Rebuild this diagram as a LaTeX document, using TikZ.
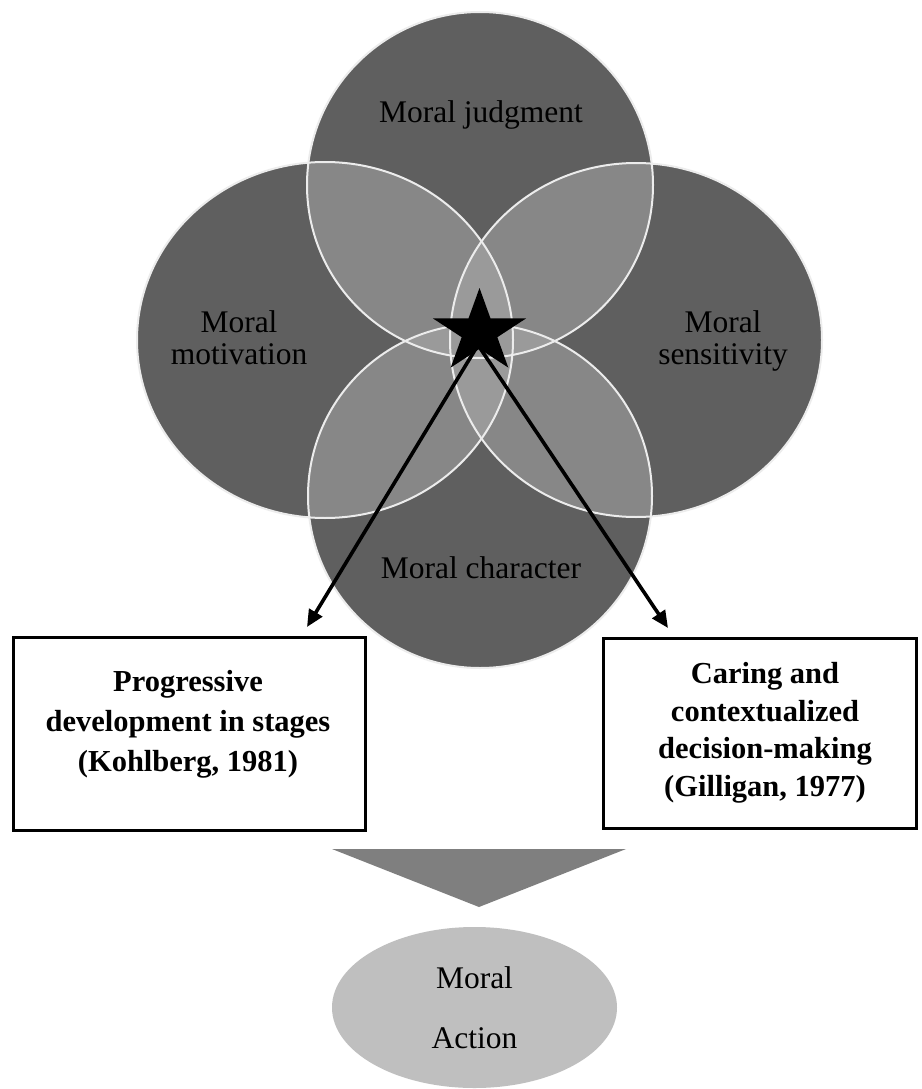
\documentclass[tikz,border=0pt]{standalone}
\usepackage{fontspec}
\setmainfont{Liberation Serif}
\usetikzlibrary{arrows.meta,shapes.geometric}
\definecolor{vdark}{HTML}{5F5F5F}
\definecolor{vmid}{HTML}{878787}
\definecolor{vlight}{HTML}{9A9A9A}
\definecolor{vline}{HTML}{ECECEC}
\definecolor{vtri}{HTML}{7F7F7F}
\definecolor{vell}{HTML}{BFBFBF}
\begin{document}
\begin{tikzpicture}[x=1pt,y=-1pt,
  lbl/.style={font=\fontsize{31.5}{32}\selectfont, align=center, inner sep=0pt, text=black},
  boxtxt/.style={font=\fontsize{30.5}{40}\selectfont\bfseries, align=center, inner sep=0pt, text=black},
  framebox/.style={draw=black, line width=3.2pt, fill=white, inner sep=0pt},
  conn/.style={line width=3.6pt, -{Triangle[length=17pt,width=15pt]}},
  outl/.style={draw=vline, line width=2pt}
]
\useasboundingbox (0,0) rectangle (921,1089);
\fill[white] (0,0) rectangle (921,1089);

% base fills
\fill[vdark] (480,185) circle[radius=173];
\fill[vdark] (480,496) circle[radius=172];
\fill[vdark] (325,340) ellipse[x radius=188,y radius=178];
\fill[vdark] (636,340) ellipse[x radius=186,y radius=177];

% pairwise overlaps
\begin{scope}
  \clip (480,185) circle[radius=173];
  \fill[vmid] (325,340) ellipse[x radius=188,y radius=178];
  \fill[vmid] (636,340) ellipse[x radius=186,y radius=177];
\end{scope}
\begin{scope}
  \clip (480,496) circle[radius=172];
  \fill[vmid] (325,340) ellipse[x radius=188,y radius=178];
  \fill[vmid] (636,340) ellipse[x radius=186,y radius=177];
\end{scope}
\begin{scope}
  \clip (325,340) ellipse[x radius=188,y radius=178];
  \fill[vlight] (636,340) ellipse[x radius=186,y radius=177];
\end{scope}
\begin{scope}
  \clip (480,185) circle[radius=173];
  \fill[vlight] (480,496) circle[radius=172];
\end{scope}

% outlines
\draw[outl] (480,185) circle[radius=173];
\draw[outl] (480,496) circle[radius=172];
\draw[outl] (325,340) ellipse[x radius=188,y radius=178];
\draw[outl] (636,340) ellipse[x radius=186,y radius=177];

% circle labels
\node[lbl, anchor=base] (judg) at (481,123) {Moral judgment};
\node[lbl, anchor=base] (char) at (481,578) {Moral character};
\node[lbl] (motiv) at (239,338) {Moral\\motivation};
\node[lbl] (sens) at (723,340.5) {Moral\\sensitivity};

% boxes
\node[framebox, minimum width=351.8pt, minimum height=192.8pt] (kbox) at (189.5,734) {};
\node[framebox, minimum width=312.8pt, minimum height=189.8pt] (gbox) at (760,733.5) {};
\node[boxtxt, anchor=north] (ktxt) at (188,670.5) {Progressive\\development in stages\\(Kohlberg, 1981)};
\node[boxtxt, anchor=north, font=\fontsize{30.5}{37.5}\selectfont\bfseries] (gtxt) at (765,662.5) {Caring and\\contextualized\\decision-making\\(Gilligan, 1977)};

% arrows from the star
\coordinate (starc) at (478,345);
\coordinate (tipL) at ([shift={(-60,-9)}]kbox.north east);
\coordinate (tipR) at ([shift={(66,-9)}]gbox.north west);
\draw[conn] (starc) -- (tipL);
\draw[conn] (starc) -- (tipR);

% star
\fill[black] (479.5,288) -- (490.5,318.4) -- (526.1,318.4) -- (497.3,337.2) -- (508.3,367.6)
  -- (479.5,348.8) -- (450.7,367.6) -- (461.7,337.2) -- (432.9,318.4) -- (468.5,318.4) -- cycle;

% chevron
\fill[vtri] (332,849) -- (626,849) -- (479,907) -- cycle;

% moral action
\node[ellipse, fill=vell, minimum width=285pt, minimum height=161pt, inner sep=0pt,
  font=\fontsize{31.5}{60}\selectfont, align=center] (act) at (474.5,1007.5) {Moral\\Action};
\end{tikzpicture}
\end{document}
